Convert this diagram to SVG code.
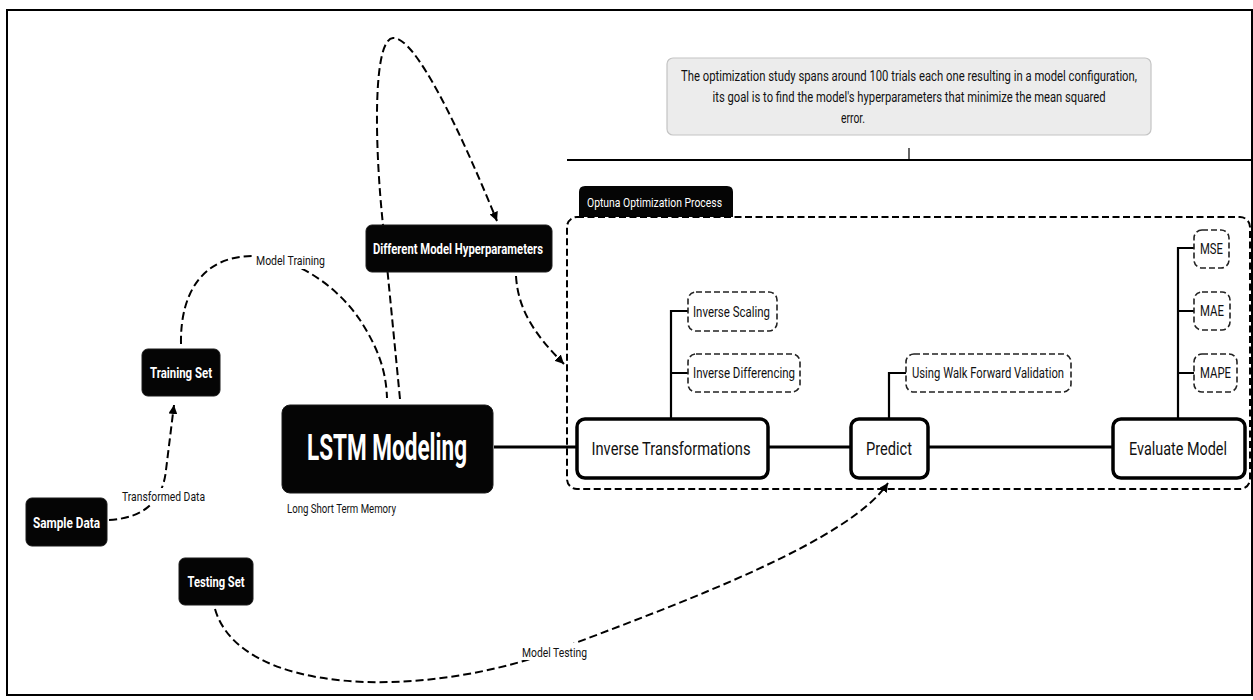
<svg xmlns="http://www.w3.org/2000/svg" width="1253" height="700" viewBox="0 0 1253 700">
<defs>
<marker id="arr" markerUnits="userSpaceOnUse" markerWidth="10" markerHeight="9" refX="9" refY="4.5" orient="auto">
<path d="M0,0 L9,4.5 L0,9 z" fill="#000"/>
</marker>
<style>
text{font-family:Roboto,"Liberation Sans",sans-serif}
.dark{fill:#050505;stroke:#1a1a1a;stroke-width:1}
.wt{fill:#fff;font-weight:bold;text-anchor:middle}
.stage{fill:#fff;stroke:#000;stroke-width:3.5}
.st{fill:#111;font-size:18px;text-anchor:middle}
.sub{fill:#fff;stroke:#222;stroke-width:1.6;stroke-dasharray:6 3}
.subt{fill:#111;font-size:15px}
.br{fill:none;stroke:#000;stroke-width:2.2}
.main{fill:none;stroke:#000;stroke-width:3}
.conn{fill:none;stroke:#000;stroke-width:2;stroke-dasharray:8 4}
.lbl{fill:#111;font-size:13px}
</style>
</defs>
<rect x="0" y="0" width="1253" height="700" fill="#fff"/>
<rect x="7" y="10" width="1245" height="685" fill="none" stroke="#000" stroke-width="2"/>

<g id="note">
<rect x="667" y="58" width="484" height="77" rx="6" fill="#ececec" stroke="#c4c4c4" stroke-width="1.2"/>
<text x="909" y="81" font-size="14" fill="#111" text-anchor="middle" textLength="456" lengthAdjust="spacingAndGlyphs">The optimization study spans around 100 trials each one resulting in a model configuration,</text>
<text x="909" y="102" font-size="14" fill="#111" text-anchor="middle" textLength="393" lengthAdjust="spacingAndGlyphs">its goal is to find the model's hyperparameters that minimize the mean squared</text>
<text x="841" y="123" font-size="14" fill="#111" textLength="24" lengthAdjust="spacingAndGlyphs">error.</text>
<line x1="567" y1="160" x2="1253" y2="160" stroke="#000" stroke-width="1.8"/>
<line x1="909" y1="148" x2="909" y2="160" stroke="#000" stroke-width="1.2"/>
</g>

<g id="optuna-process">
<path d="M579,217 L579,192 Q579,186 585,186 L727,186 Q733,186 733,192 L733,217 Z" fill="#050505"/>
<text x="587" y="207" font-size="13" fill="#fff" textLength="135" lengthAdjust="spacingAndGlyphs">Optuna Optimization Process</text>
<rect x="567" y="217" width="683" height="272" rx="10" fill="none" stroke="#000" stroke-width="2" stroke-dasharray="7 3.5"/>
</g>

<g id="connectors">
<path class="conn" d="M109,520 C 145,518 163,500 166,470 L 174,405" marker-end="url(#arr)"/>
<path class="conn" d="M181,344 C 180,290 205,255 255,256 C 300,258 340,290 360,320 C 378,348 386,370 387,398"/>
<path class="conn" d="M400,399 L 383,225 C 375,150 372,40 393,38 C 415,36 460,130 497,221" marker-end="url(#arr)"/>
<path class="conn" d="M516,276 C 518,310 535,335 564,364" marker-end="url(#arr)"/>
<path class="conn" d="M215,609 C 240,695 420,700 554,651 C 690,600 850,540 888,483" marker-end="url(#arr)"/>
<path class="main" d="M494,447 L577,447 M768,447 L851,447 M928,447 L1113,447"/>
<path class="br" d="M671,418 L671,311 L688,311 M671,373 L688,373"/>
<path class="br" d="M889,418 L889,373 L906,373"/>
<path class="br" d="M1178,418 L1178,248 L1194,248 M1178,311 L1194,311 M1178,373 L1194,373"/>
<rect x="121" y="488" width="86" height="16" fill="#fff"/>
<text class="lbl" x="122" y="501" textLength="83" lengthAdjust="spacingAndGlyphs">Transformed Data</text>
<rect x="255" y="252" width="72" height="17" fill="#fff"/>
<text class="lbl" x="256" y="265" textLength="69" lengthAdjust="spacingAndGlyphs">Model Training</text>
<rect x="520" y="643" width="69" height="17" fill="#fff"/>
<text class="lbl" x="522" y="657" textLength="65" lengthAdjust="spacingAndGlyphs">Model Testing</text>
</g>

<g id="sample-data">
<rect class="dark" x="26" y="498" width="81" height="48" rx="6"/>
<text class="wt" x="66.5" y="528" font-size="15" textLength="67" lengthAdjust="spacingAndGlyphs">Sample Data</text>
</g>
<g id="training-set">
<rect class="dark" x="142" y="349" width="78" height="47" rx="6"/>
<text class="wt" x="181" y="378" font-size="15" textLength="62" lengthAdjust="spacingAndGlyphs">Training Set</text>
</g>
<g id="testing-set">
<rect class="dark" x="179" y="558" width="74" height="47" rx="6"/>
<text class="wt" x="216" y="587" font-size="15" textLength="57" lengthAdjust="spacingAndGlyphs">Testing Set</text>
</g>
<g id="hyperparameters">
<rect class="dark" x="366" y="225" width="186" height="47" rx="6"/>
<text class="wt" x="458" y="254" font-size="15" textLength="170" lengthAdjust="spacingAndGlyphs">Different Model Hyperparameters</text>
</g>
<g id="lstm">
<rect class="dark" x="282" y="405" width="211" height="88" rx="8"/>
<text class="wt" x="387" y="460" font-size="37" textLength="160" lengthAdjust="spacingAndGlyphs">LSTM Modeling</text>
<text x="287" y="513" font-size="12" fill="#111" textLength="109" lengthAdjust="spacingAndGlyphs">Long Short Term Memory</text>
</g>

<g id="inverse-transformations">
<rect class="stage" x="577" y="419" width="191" height="59" rx="8"/>
<text class="st" x="671" y="455" textLength="159" lengthAdjust="spacingAndGlyphs">Inverse Transformations</text>
</g>
<g id="predict">
<rect class="stage" x="851" y="419" width="77" height="59" rx="8"/>
<text class="st" x="889" y="455" textLength="46" lengthAdjust="spacingAndGlyphs">Predict</text>
</g>
<g id="evaluate-model">
<rect class="stage" x="1113" y="419" width="132" height="59" rx="8"/>
<text class="st" x="1178" y="455" textLength="98" lengthAdjust="spacingAndGlyphs">Evaluate Model</text>
</g>

<g id="inverse-scaling">
<rect class="sub" x="688" y="292" width="89" height="39" rx="8"/>
<text class="subt" x="693" y="317" textLength="77" lengthAdjust="spacingAndGlyphs">Inverse Scaling</text>
</g>
<g id="inverse-differencing">
<rect class="sub" x="688" y="354" width="112" height="38" rx="8"/>
<text class="subt" x="693" y="378" textLength="102" lengthAdjust="spacingAndGlyphs">Inverse Differencing</text>
</g>
<g id="walk-forward">
<rect class="sub" x="906" y="354" width="165" height="38" rx="8"/>
<text class="subt" x="912" y="378" textLength="152" lengthAdjust="spacingAndGlyphs">Using Walk Forward Validation</text>
</g>
<g id="mse">
<rect class="sub" x="1194" y="230" width="35" height="38" rx="8"/>
<text class="subt" x="1200" y="254" textLength="23" lengthAdjust="spacingAndGlyphs">MSE</text>
</g>
<g id="mae">
<rect class="sub" x="1194" y="292" width="36" height="38" rx="8"/>
<text class="subt" x="1200" y="316" textLength="24" lengthAdjust="spacingAndGlyphs">MAE</text>
</g>
<g id="mape">
<rect class="sub" x="1194" y="354" width="43" height="38" rx="8"/>
<text class="subt" x="1200" y="378" textLength="31" lengthAdjust="spacingAndGlyphs">MAPE</text>
</g>
</svg>
